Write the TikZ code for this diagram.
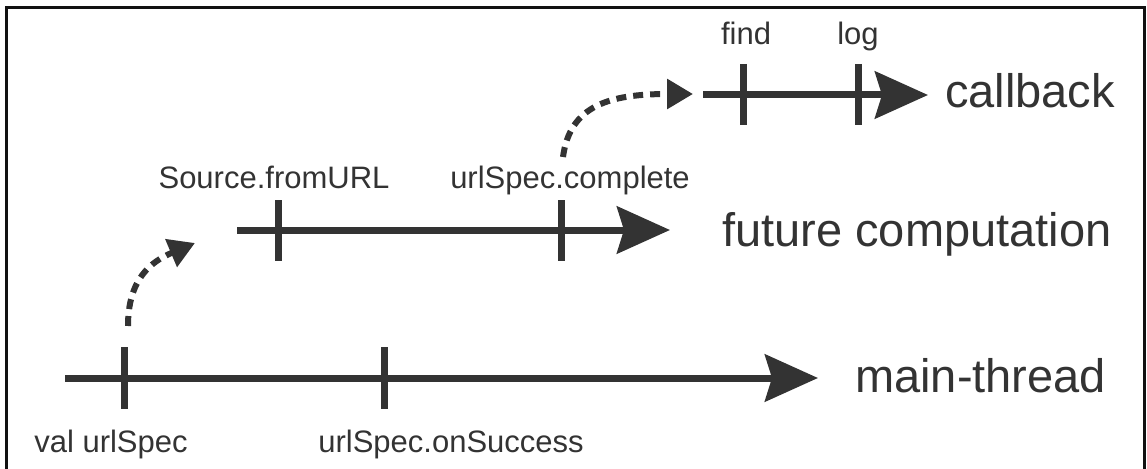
\documentclass[tikz,border=0pt]{standalone}
\usepackage{fontspec}
\setmainfont{Liberation Sans}
\usetikzlibrary{arrows.meta}
\definecolor{ink}{HTML}{333333}
\definecolor{frame}{HTML}{111111}
\tikzset{
  timeline/.style={draw=ink, line width=7pt, -{Stealth[length=53pt, width=47pt, inset=7pt]}},
  tick/.style={draw=ink, line width=7pt},
  hop/.style={draw=ink, line width=6pt, dash pattern=on 10pt off 7pt, -{Triangle[length=26pt, width=29pt]}},
  small/.style={text=ink, inner sep=0pt, anchor=base, font=\fontsize{31}{36}\selectfont},
  big/.style={text=ink, inner sep=0pt, anchor=base west, font=\fontsize{47}{54}\selectfont},
}
\begin{document}
\begin{tikzpicture}[x=1pt, y=-1pt]
\useasboundingbox (0,0) rectangle (1147,468);
% frame
\draw[frame, line width=3pt] (6,480) -- (6,8) -- (1144,8) -- (1144,480);

% main thread
\coordinate (m0) at (65,378);
\coordinate (m1) at (818,378);
\draw[timeline] (m0) -- (m1);
\coordinate (mt1a) at (124,347); \coordinate (mt1b) at (124,409);
\coordinate (mt2a) at (384,347); \coordinate (mt2b) at (384,409);
\draw[tick] (mt1a) -- (mt1b);
\draw[tick] (mt2a) -- (mt2b);

% future computation
\coordinate (f0) at (237,230);
\coordinate (f1) at (670,230);
\draw[timeline] (f0) -- (f1);
\coordinate (ft1a) at (278,200); \coordinate (ft1b) at (278,261);
\coordinate (ft2a) at (561,200); \coordinate (ft2b) at (561,261);
\draw[tick] (ft1a) -- (ft1b);
\draw[tick] (ft2a) -- (ft2b);

% callback
\coordinate (c0) at (703,95);
\coordinate (c1) at (928,95);
\draw[timeline] (c0) -- (c1);
\coordinate (ct1a) at (743,64); \coordinate (ct1b) at (743,125);
\coordinate (ct2a) at (858,64); \coordinate (ct2b) at (858,125);
\draw[tick] (ct1a) -- (ct1b);
\draw[tick] (ct2a) -- (ct2b);

% dashed hops
\coordinate (h1s) at (128,326);
\coordinate (h1e) at (195,243);
\draw[hop] (h1s) .. controls (128,280) and (150,262) .. (h1e);
\coordinate (h2s) at (563,157);
\coordinate (h2e) at (693,94);
\draw[hop] (h2s) .. controls (570,105) and (610,94) .. (h2e);

% labels
\node[small] (lfind) at (746,45) {find};
\node[small] (llog) at (858,45) {log};
\node[small] (lsrc) at (274,188) {Source.fromURL};
\node[small] (lcomp) at (570,188) {urlSpec.complete};
\node[small] (lval) at (111,452) {val urlSpec};
\node[small] (lsucc) at (451,452) {urlSpec.onSuccess};
\node[big] (lcb) at (945,108) {callback};
\node[big] (lfc) at (722,246) {future computation};
\node[big] (lmt) at (855,392) {main-thread};
\end{tikzpicture}
\end{document}
